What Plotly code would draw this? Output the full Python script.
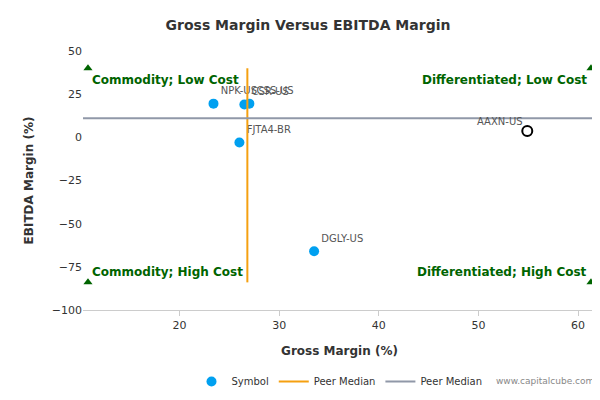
import plotly.graph_objects as go

names = ["NPK-US", "CSR-US", "CSS-US", "FJTA4-BR", "DGLY-US"]
gm = [23.4, 26.5, 27.0, 26.0, 33.5]
em = [19.5, 19.0, 19.5, -3.0, -66.0]
focus_name = "AAXN-US"; focus_gm = 54.9; focus_em = 3.7
med_gm = 26.8; med_em = 11.0
xmin, xmax = 10.3, 61.8
ymin, ymax = -100, 50
corner_y = [40, -84]

fig = go.Figure()
fig.add_trace(go.Scatter(x=gm, y=em, mode="markers+text", text=names, textposition="top right",
    textfont=dict(size=10, color="#555"), marker=dict(size=10, color="#00a0f0"), name="Symbol"))
fig.add_trace(go.Scatter(x=[med_gm, med_gm], y=[40, -84], mode="lines", line=dict(color="#f5a010", width=2),
    name="Peer Median"))
fig.add_trace(go.Scatter(x=[xmin, xmax], y=[med_em, med_em], mode="lines", line=dict(color="#9098a8", width=2),
    name="Peer Median"))
fig.add_trace(go.Scatter(x=[focus_gm], y=[focus_em], mode="markers", marker=dict(size=10, color="white",
    line=dict(color="black", width=2)), showlegend=False))
fig.add_trace(go.Scatter(x=[xmin+0.5, xmax-0.5, xmin+0.5, xmax-0.5], y=[corner_y[0], corner_y[0], corner_y[1], corner_y[1]],
    mode="markers", marker=dict(symbol="triangle-up", size=8, color="#006400"), showlegend=False))
fig.add_annotation(x=focus_gm, y=focus_em, text=focus_name, showarrow=False, xanchor="right", yanchor="bottom",
    xshift=-2, yshift=2, font=dict(size=10, color="#555"))
for tx, ty, xa in [("Commodity; Low Cost", 33, "left"), ("Differentiated; Low Cost", 33, "right"),
                   ("Commodity; High Cost", -78, "left"), ("Differentiated; High Cost", -78, "right")]:
    fig.add_annotation(x=xmin+0.7 if xa == "left" else xmax-0.7, y=ty, text="<b>"+tx+"</b>", showarrow=False,
        xanchor=xa, font=dict(size=12, color="#006400"))
fig.add_annotation(x=1, y=-0.3, xref="paper", yref="paper", text="www.capitalcube.com", showarrow=False,
    xanchor="right", font=dict(size=9, color="#888"))
fig.update_layout(width=600, height=400, plot_bgcolor="white", paper_bgcolor="white",
    margin=dict(l=75, r=12, t=43, b=92),
    title=dict(text="<b>Gross Margin Versus EBITDA Margin</b>", x=0.5, y=0.97, font=dict(size=14, color="#333")),
    font=dict(family="DejaVu Sans", color="#333", size=11),
    xaxis=dict(range=[xmin, xmax], tickvals=[20, 30, 40, 50, 60], showgrid=False, zeroline=False, automargin=False,
        showline=True, linecolor="#ccc", ticks="outside", tickcolor="#ccc",
        title=dict(text="<b>Gross Margin (%)</b>", font=dict(size=12))),
    yaxis=dict(range=[ymin, ymax], tickvals=[-100, -75, -50, -25, 0, 25, 50], showgrid=False, zeroline=False,
        automargin=False, title=dict(text="<b>EBITDA Margin (%)</b>", font=dict(size=12))),
    legend=dict(orientation="h", x=0.5, xanchor="center", y=-0.22, font=dict(size=10)))
fig.write_html("out.html")
